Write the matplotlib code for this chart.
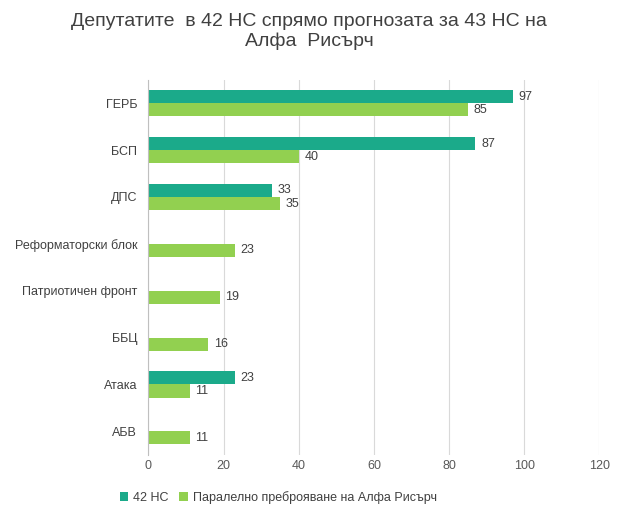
import numpy as np
import matplotlib.pyplot as plt

plt.rcParams["font.family"] = "Liberation Sans"

categories = ["ГЕРБ", "БСП", "ДПС", "Реформаторски блок", "Патриотичен фронт", "ББЦ", "Атака", "АБВ"]
ns42 = [97, 87, 33, 0, 0, 0, 23, 0]
alpha = [85, 40, 35, 23, 19, 16, 11, 11]
xticks = [0, 20, 40, 60, 80, 100, 120]

C42 = "#1BAA8A"
CALPHA = "#92D050"

fig = plt.figure(figsize=(6.18, 5.15), dpi=100)
ax = fig.add_axes([0.24, 0.117, 0.73, 0.728])

y = np.arange(len(categories))
h = 0.28
b1 = ax.barh(y - h / 2, ns42, height=h, color=C42, label="42 НС")
b2 = ax.barh(y + h / 2, alpha, height=h, color=CALPHA, label="Паралелно преброяване на Алфа Рисърч")

for bars, vals in ((b1, ns42), (b2, alpha)):
    for bar, v in zip(bars, vals):
        if v:
            ax.text(v + 1.5, bar.get_y() + bar.get_height() / 2, str(v),
                    va="center", ha="left", fontsize=9, color="#404040")

ax.set_ylim(len(categories) - 0.5, -0.5)
ax.set_xlim(0, 120)
ax.set_xticks(xticks)
ax.set_yticks(y)
ax.set_yticklabels(categories, fontsize=9, color="#404040")
ax.tick_params(axis="x", labelsize=9, colors="#595959", length=0)
ax.tick_params(axis="y", length=0, pad=8)
ax.grid(axis="x", color="#D9D9D9", linewidth=0.8)
ax.set_axisbelow(True)
for s in ("top", "right", "bottom"):
    ax.spines[s].set_visible(False)
ax.spines["left"].set_color("#BFBFBF")

fig.suptitle("Депутатите  в 42 НС спрямо прогнозата за 43 НС на\nАлфа  Рисърч",
             fontsize=14, color="#404040", y=0.975)
fig.legend(loc="lower center", bbox_to_anchor=(0.45, 0.0), ncol=2, frameon=False,
           fontsize=9, handlelength=0.7, handleheight=0.7, columnspacing=0.8,
           handletextpad=0.4, labelcolor="#404040")

fig.savefig("out.png", dpi=100)
